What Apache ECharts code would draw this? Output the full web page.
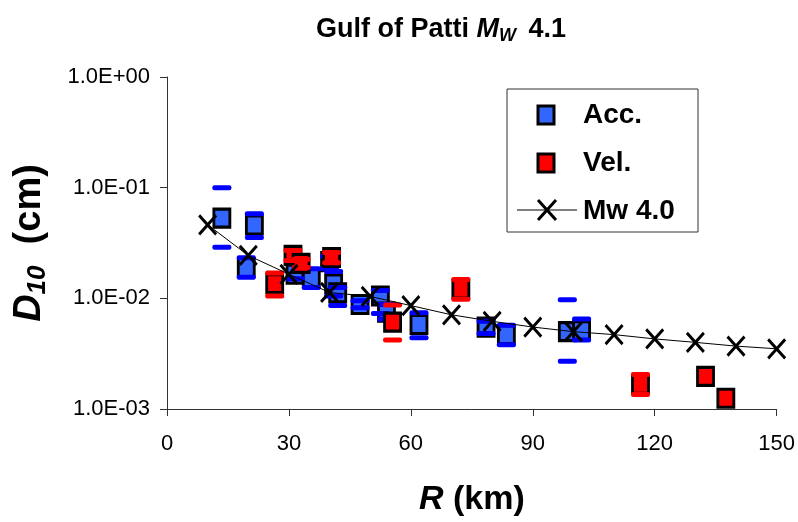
<!DOCTYPE html>
<html><head><meta charset="utf-8">
<script src="https://cdn.jsdelivr.net/npm/echarts@6/dist/echarts.min.js"></script>
<style>html,body{margin:0;padding:0;background:#fff}#c{width:798px;height:522px}</style>
</head><body><div id="c"></div>
<script>
// ---- data ----
const xTicks = [0, 30, 60, 90, 120, 150];
const yTicks = [0.001, 0.01, 0.1, 1];

const accR  = [13.5, 19.5, 21.5, 31.5, 35.5, 40, 41, 42, 47.5, 52.5, 54, 62, 78.5, 83.5, 98.5, 102];
const accD  = [0.053, 0.019, 0.046, 0.0165, 0.0152, 0.0215, 0.0135, 0.0112, 0.0088, 0.0105, 0.0075, 0.0058, 0.0055, 0.0047, 0.0050, 0.0051];
const accHi = [0.100, 0.0233, 0.058, 0.0205, 0.0185, 0.0240, 0.0175, 0.0125, 0.0095, 0.0118, 0.0088, 0.0074, 0.0062, 0.0057, 0.0097, 0.0065];
const accLo = [0.029, 0.0155, 0.0354, 0.0150, 0.0125, 0.0185, 0.0105, 0.0086, 0.0082, 0.0073, 0.0065, 0.0044, 0.0048, 0.0038, 0.0027, 0.0042];

const velR  = [26.5, 31, 33, 40.5, 55.5, 72.3, 116.5, 132.5, 137.5];
const velD  = [0.0136, 0.0244, 0.0207, 0.0234, 0.0061, 0.0121, 0.00167, 0.00197, 0.00125];
const velHi = [0.0169, 0.0270, 0.0225, 0.0260, 0.0087, 0.0148, 0.00205, null, null];
const velLo = [0.0105, 0.0220, 0.0190, 0.0210, 0.0042, 0.0098, 0.00135, null, null];

const mwR = [10, 20, 30, 40, 50, 60, 70, 80, 90, 100, 110, 120, 130, 140, 150];
const mwD = [0.0462, 0.0244, 0.0165, 0.0113, 0.0104, 0.0086, 0.0071, 0.0062, 0.0055, 0.0050, 0.0047, 0.0043, 0.0040, 0.0037, 0.0035];

// ---- chart ----
const FONT = '"Liberation Sans", Arial, sans-serif';
const chart = echarts.init(document.getElementById('c'), null, {renderer: 'canvas'});

function zip(a, b) { return a.map((v, i) => [v, b[i]]); }
function errData(r, lo, hi) {
  const out = [];
  r.forEach((v, i) => { if (lo[i] != null && hi[i] != null) out.push([v, lo[i], hi[i]]); });
  return out;
}
function capRender(color) {
  return function (params, api) {
    const r = api.value(0);
    const pLo = api.coord([r, api.value(1)]);
    const pHi = api.coord([r, api.value(2)]);
    const w = 19, h = 5;
    const mk = p => ({type: 'rect', shape: {x: p[0] - w / 2, y: p[1] - h / 2, width: w, height: h, r: 2},
      style: {fill: color}});
    return {type: 'group', children: [mk(pLo), mk(pHi)]};
  };
}
function fmtE(v) {
  const e = Math.round(Math.log10(v));
  const m = v / Math.pow(10, e);
  const s = e < 0 ? '-' : '+';
  const ea = Math.abs(e);
  return m.toFixed(1) + 'E' + s + (ea < 10 ? '0' : '') + ea;
}
const xPath = 'path://M0,0L10,10M10,0L0,10';

chart.setOption({
  animation: false,
  backgroundColor: '#fff',
  title: {
    text: 'Gulf of Patti {i|M}{s|W} 4.1',
    left: 436, top: 10, textAlign: 'center',
    textStyle: {
      fontFamily: FONT, fontSize: 27, fontWeight: 'bold', color: '#000',
      rich: {
        i: {fontFamily: FONT, fontSize: 27, fontWeight: 'bold', fontStyle: 'italic', color: '#000'},
        s: {fontFamily: FONT, fontSize: 18, fontWeight: 'bold', fontStyle: 'italic', color: '#000', padding: [12, 5, 0, 0]}
      }
    }
  },
  grid: {left: 167, right: 18, top: 77, bottom: 111},
  xAxis: {
    type: 'value', min: xTicks[0], max: xTicks[xTicks.length - 1], interval: 30,
    name: '{i|R} (km)', nameLocation: 'middle', nameGap: 74,
    nameTextStyle: {fontFamily: FONT, fontSize: 34, fontWeight: 'bold', color: '#000',
      rich: {i: {fontFamily: FONT, fontSize: 34, fontWeight: 'bold', fontStyle: 'italic', color: '#000'}}},
    axisLine: {lineStyle: {color: '#333', width: 1}},
    axisTick: {show: true, inside: false, length: 7, lineStyle: {color: '#333'}},
    axisLabel: {fontFamily: FONT, fontSize: 22, color: '#000', margin: 24},
    splitLine: {show: false}
  },
  yAxis: {
    type: 'log', logBase: 10, min: yTicks[0], max: yTicks[yTicks.length - 1],
    name: '{i|D}{s|10}  (cm)', nameLocation: 'middle', nameGap: 116, nameRotate: 90,
    nameTextStyle: {fontFamily: FONT, fontSize: 38, fontWeight: 'bold', color: '#000',
      rich: {
        i: {fontFamily: FONT, fontSize: 38, fontWeight: 'bold', fontStyle: 'italic', color: '#000'},
        s: {fontFamily: FONT, fontSize: 26, fontWeight: 'bold', fontStyle: 'italic', color: '#000', padding: [16, 0, 0, 0]}
      }},
    axisLine: {show: true, lineStyle: {color: '#333', width: 1}},
    axisTick: {show: true, inside: false, length: 7, lineStyle: {color: '#333'}},
    axisLabel: {fontFamily: FONT, fontSize: 22, color: '#000', margin: 17, formatter: fmtE},
    splitLine: {show: false}
  },
  series: [
    {
      name: 'Acc.', type: 'scatter', data: zip(accR, accD), symbol: 'rect', symbolSize: [16, 18],
      itemStyle: {color: '#3366FF', borderColor: '#000', borderWidth: 3, opacity: 1}, z: 2
    },
    {
      name: 'AccErr', type: 'custom', data: errData(accR, accLo, accHi), renderItem: capRender('#0000FF'),
      encode: {x: 0, y: [1, 2]}, z: 3
    },
    {
      name: 'Vel.', type: 'scatter', data: zip(velR, velD), symbol: 'rect', symbolSize: [16, 18],
      itemStyle: {color: '#FF0000', borderColor: '#000', borderWidth: 3, opacity: 1}, z: 4
    },
    {
      name: 'VelErr', type: 'custom', data: errData(velR, velLo, velHi), renderItem: capRender('#FF0000'),
      encode: {x: 0, y: [1, 2]}, z: 5
    },
    {
      name: 'Mw 4.0', type: 'line', data: zip(mwR, mwD), symbol: xPath, symbolSize: [17, 19],
      showSymbol: true, symbolKeepAspect: false,
      lineStyle: {color: '#000', width: 1},
      itemStyle: {color: '#000', borderColor: '#000', borderWidth: 3},
      z: 6
    }
  ],
  graphic: [
    {type: 'rect', shape: {x: 507, y: 89, width: 191, height: 143},
      style: {fill: '#fff', stroke: '#333', lineWidth: 1}, z: 10},
    {type: 'rect', shape: {x: 538, y: 106, width: 16, height: 18},
      style: {fill: '#3366FF', stroke: '#000', lineWidth: 3}, z: 11},
    {type: 'text', x: 583, y: 115, style: {text: 'Acc.', font: 'bold 28px ' + FONT, fill: '#000', textVerticalAlign: 'middle'}, z: 11},
    {type: 'rect', shape: {x: 538, y: 154, width: 16, height: 18},
      style: {fill: '#FF0000', stroke: '#000', lineWidth: 3}, z: 11},
    {type: 'text', x: 583, y: 163, style: {text: 'Vel.', font: 'bold 28px ' + FONT, fill: '#000', textVerticalAlign: 'middle'}, z: 11},
    {type: 'line', shape: {x1: 517, y1: 210, x2: 577, y2: 210}, style: {stroke: '#000', lineWidth: 1}, z: 11},
    {type: 'polyline', shape: {points: [[538, 200], [556, 220]]}, style: {stroke: '#000', lineWidth: 3, fill: null}, z: 11},
    {type: 'polyline', shape: {points: [[556, 200], [538, 220]]}, style: {stroke: '#000', lineWidth: 3, fill: null}, z: 11},
    {type: 'text', x: 583, y: 211, style: {text: 'Mw 4.0', font: 'bold 28px ' + FONT, fill: '#000', textVerticalAlign: 'middle'}, z: 11}
  ]
});
</script>
</body></html>
